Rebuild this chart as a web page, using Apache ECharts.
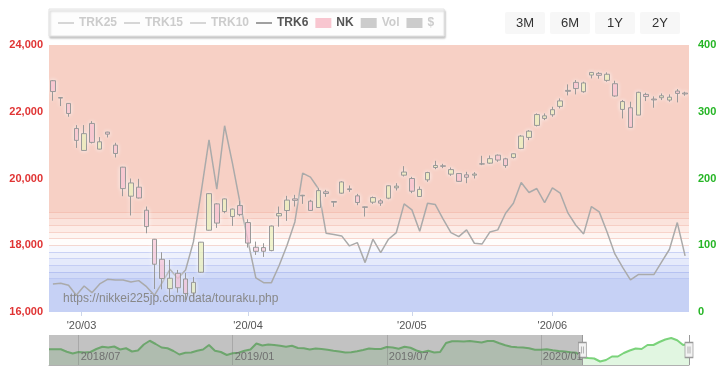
<!DOCTYPE html>
<html><head><meta charset="utf-8">
<script src="https://cdn.jsdelivr.net/npm/echarts@6/dist/echarts.min.js"></script>
<style>html,body{margin:0;padding:0;background:#fff}#c{width:726px;height:380px}</style>
</head><body><div id="c"></div>
<script>
// ---------- data ----------
const dates = ['2020/02/25','2020/02/26','2020/02/27','2020/02/28',
'2020/03/02','2020/03/03','2020/03/04','2020/03/05','2020/03/06','2020/03/09','2020/03/10','2020/03/11','2020/03/12','2020/03/13','2020/03/16','2020/03/17','2020/03/18','2020/03/19','2020/03/23','2020/03/24','2020/03/25','2020/03/26','2020/03/27','2020/03/30','2020/03/31',
'2020/04/01','2020/04/02','2020/04/03','2020/04/06','2020/04/07','2020/04/08','2020/04/09','2020/04/10','2020/04/13','2020/04/14','2020/04/15','2020/04/16','2020/04/17','2020/04/20','2020/04/21','2020/04/22','2020/04/23','2020/04/24','2020/04/27','2020/04/28','2020/04/30',
'2020/05/01','2020/05/07','2020/05/08','2020/05/11','2020/05/12','2020/05/13','2020/05/14','2020/05/15','2020/05/18','2020/05/19','2020/05/20','2020/05/21','2020/05/22','2020/05/25','2020/05/26','2020/05/27','2020/05/28','2020/05/29',
'2020/06/01','2020/06/02','2020/06/03','2020/06/04','2020/06/05','2020/06/08','2020/06/09','2020/06/10','2020/06/11','2020/06/12','2020/06/15','2020/06/16','2020/06/17','2020/06/18','2020/06/19','2020/06/22','2020/06/23','2020/06/24'];

const nkOpen = [22930,22410,22250,21500,
20840,21650,20880,21390,21000,20340,19470,19740,19050,18180,17580,16700,17160,16990,16570,17190,18450,19240,19010,18860,19190,
18680,17940,17930,17840,18880,19040,19390,19480,19320,19130,19600,19310,19560,19690,19480,19150,19290,19330,19410,19720,20100,
20000,19460,19960,20330,20380,20130,20150,20110,20100,20440,20460,20700,20590,20630,20900,21230,21590,21800,
21910,22160,22640,22880,22600,23100,23150,22940,22840,22070,22120,21900,22520,22380,22420,22350,22620,22560];
const nkHigh = [22950,22440,22260,21600,
21600,21720,21240,21400,21070,20350,20000,19990,19160,18190,17790,17560,17260,17170,17050,18100,19560,19260,19400,19100,19330,
18780,18110,18060,18590,19160,19480,19510,19510,19360,19710,19660,19320,19920,19790,19540,19160,19460,19380,19800,19860,20370,
20050,19760,20200,20530,20440,20330,20160,20200,20190,20680,20690,20720,20620,20750,21300,21450,21950,21950,
22150,22400,22820,22950,22900,23190,23190,23180,22930,22350,22300,22600,22570,22460,22550,22520,22680,22600];
const nkLow = [22330,22170,21850,20916,
20830,21050,20870,21230,20630,19470,18891,19400,18360,16690,16680,16378,16580,16358,16410,17170,18440,18520,18960,18580,18870,
17930,17710,17650,17820,18557,18730,19160,19240,19030,19120,19450,19150,19540,19600,19200,18860,19240,19180,19380,19640,20060,
19560,19450,19900,20280,20310,20080,19900,19860,20000,20400,20440,20500,20320,20600,20880,21150,21560,21750,
21850,22100,22490,22520,22570,23000,22990,22900,22450,21800,21530,21900,22320,22120,22350,22300,22280,22480];
const nkClose = [22605,22426,21948,21142,
21344,21082,21100,21329,20749,19698,19867,19416,18559,17431,17002,17011,16726,16552,16887,18092,19546,18664,19389,19084,18917,
18065,17818,17820,18576,18950,19353,19345,19498,19043,19638,19550,19290,19897,19669,19280,19137,19429,19262,19783,19771,20193,
19619,19674,20179,20390,20366,20267,19914,20037,20133,20433,20595,20552,20388,20741,21271,21419,21916,21877,
22062,22325,22613,22695,22863,23178,23091,23124,22472,22305,21530,22582,22455,22355,22478,22437,22549,22534];

const trk6 = [42,43,40,25,39,29,42,49,48,48,45,47,38,25,44,64,50,63,105,180,258,184,279,223,162,
106,51,44,44,70,100,135,208,202,185,118,116,114,99,104,74,109,89,109,119,162,
153,121,163,161,139,119,113,123,103,102,120,123,148,163,194,179,185,164,
186,178,148,130,117,158,150,120,87,67,48,56,56,56,75,94,134,84];

const tickMonths = ['2020/03','2020/04','2020/05','2020/06'];
const tickLabels = ["'20/03","'20/04","'20/05","'20/06"];

const bandEdges = [0,50,60,70,80,90,100,110,120,130,140,150,400];
const bandColors = ['#c6d1f5','#d1daf7','#dbe2f9','#e5eafb','#eef1fc','#f7f8fe','#fffdfc','#fef5f2','#fdece7','#fbe3dc','#f9dad1','#f7d0c5'];

const navDates = ['2018/06/01','2018/06/08','2018/06/15','2018/06/22','2018/06/29','2018/07/06','2018/07/13','2018/07/20','2018/07/27','2018/08/03','2018/08/10','2018/08/17','2018/08/24','2018/08/31','2018/09/07','2018/09/14','2018/09/21','2018/09/28','2018/10/05','2018/10/12','2018/10/19','2018/10/26','2018/11/02','2018/11/09','2018/11/16','2018/11/23','2018/11/30','2018/12/07','2018/12/14','2018/12/21','2018/12/28',
'2019/01/04','2019/01/11','2019/01/18','2019/01/25','2019/02/01','2019/02/08','2019/02/15','2019/02/22','2019/03/01','2019/03/08','2019/03/15','2019/03/22','2019/03/29','2019/04/05','2019/04/12','2019/04/19','2019/04/26','2019/05/03','2019/05/10','2019/05/17','2019/05/24','2019/05/31','2019/06/07','2019/06/14','2019/06/21','2019/06/28','2019/07/05','2019/07/12','2019/07/19','2019/07/26','2019/08/02','2019/08/09','2019/08/16','2019/08/23','2019/08/30','2019/09/06','2019/09/13','2019/09/20','2019/09/27','2019/10/04','2019/10/11','2019/10/18','2019/10/25','2019/11/01','2019/11/08','2019/11/15','2019/11/22','2019/11/29','2019/12/06','2019/12/13','2019/12/20','2019/12/27',
'2020/01/03','2020/01/10','2020/01/17','2020/01/24','2020/01/31','2020/02/07','2020/02/14','2020/02/21','2020/02/28','2020/03/06','2020/03/13','2020/03/20','2020/03/27','2020/04/03','2020/04/10','2020/04/17','2020/04/24','2020/05/01','2020/05/08','2020/05/15','2020/05/22','2020/05/29','2020/06/05','2020/06/12','2020/06/19','2020/06/24'];
const navValues = [103,103,103,93,86,92,90,92,104,113,110,114,102,107,94,98,122,137,124,110,107,96,82,89,90,97,102,120,97,92,80,
87,89,97,102,126,118,122,120,117,113,117,108,107,102,106,104,101,97,94,90,91,95,100,106,104,104,112,110,105,113,109,98,91,97,90,92,128,135,135,134,136,133,130,136,136,127,119,113,111,110,107,101,
101,103,99,96,94,91,89,71,68,66,54,60,74,74,88,98,106,104,120,120,132,142,148,139,120,126];
const navWindowStart = '2020/02/21';
const navWindowEnd = '2020/06/24';

const rangeButtons = ['3M','6M','1Y','2Y'];
const sourceText = 'https://nikkei225jp.com/data/touraku.php';

// ---------- helpers ----------
const FONT = '"Liberation Sans", Arial, sans-serif';
const LINE_ICON = 'path://M0,0L16,0L16,1.6L0,1.6Z';
function dayNum(s){const p=s.split('/').map(Number);return Date.UTC(p[0],p[1]-1,p[2])/86400000;}
const tickPos = tickMonths.map(m => {
  const start = dayNum(m + '/01');
  const i = dates.findIndex(d => dayNum(d) >= start);
  const di = dayNum(dates[i]);
  if (di === start || i === 0) return i;
  const dp = dayNum(dates[i-1]);
  return i - 1 + (start - dp) / (di - dp);
});
function tickLabel(v){let b=0;for(let k=1;k<tickPos.length;k++){if(Math.abs(tickPos[k]-v)<Math.abs(tickPos[b]-v))b=k;}return tickLabels[b];}
function navLabelShown(idx, val){const p=val.split('/');return (p[1]==='01'||p[1]==='07') && Number(p[2])<=7;}

const nkData = dates.map((d,i)=>[nkOpen[i],nkClose[i],nkLow[i],nkHigh[i]]);
const bandAreas = bandColors.map((c,i)=>[{yAxis:bandEdges[i],itemStyle:{color:c}},{yAxis:bandEdges[i+1]}]);
const bandLines = bandEdges.slice(1,-1).map(v=>({yAxis:v,lineStyle:{color: v>=100?'rgba(235,150,130,0.35)':'rgba(120,140,230,0.3)'}}));
const navMid = 100;

const chart = echarts.init(document.getElementById('c'), null, {renderer:'canvas'});
chart.setOption({
  animation:false,
  textStyle:{fontFamily:FONT},
  legend:{
    left:49, top:9, padding:[8,10,7,9], itemGap:7, itemWidth:16, itemHeight:10,
    backgroundColor:'#fdfdfd', borderColor:'#e3e3e3', borderWidth:1,
    shadowColor:'rgba(0,0,0,0.22)', shadowBlur:2, shadowOffsetX:1, shadowOffsetY:2,
    textStyle:{fontSize:12, fontWeight:'bold', color:'#555', fontFamily:FONT},
    inactiveColor:'#ccc',
    data:[
      {name:'TRK25', icon:LINE_ICON, itemStyle:{borderWidth:0}},
      {name:'TRK15', icon:LINE_ICON, itemStyle:{borderWidth:0}},
      {name:'TRK10', icon:LINE_ICON, itemStyle:{borderWidth:0}},
      {name:'TRK6', icon:LINE_ICON, itemStyle:{color:'#888', borderWidth:0}},
      {name:'NK', icon:'rect', itemStyle:{color:'#f8c6d0', borderWidth:0}},
      {name:'Vol', icon:'rect', itemStyle:{borderWidth:0}},
      {name:'$', icon:'rect', itemStyle:{borderWidth:0}}
    ],
    selected:{'TRK25':false,'TRK15':false,'TRK10':false,'Vol':false,'$':false}
  },
  grid:[
    {left:49, right:37, top:45, bottom:68, outerBoundsMode:'none'},
    {left:49, right:37, top:335, height:30, outerBoundsMode:'none'}
  ],
  xAxis:[
    {type:'category', gridIndex:0, data:dates, boundaryGap:true, show:false},
    {type:'value', gridIndex:0, position:'bottom', min:-0.5, max:dates.length-0.5,
      axisLine:{show:false}, splitLine:{show:false},
      axisTick:{show:true, customValues:tickPos, length:4, lineStyle:{color:'#ccd6eb'}},
      axisLabel:{customValues:tickPos, formatter:tickLabel, color:'#555', fontSize:11, margin:8}},
    {type:'category', gridIndex:1, data:navDates, boundaryGap:false, z:20,
      axisLine:{show:true, lineStyle:{color:'#b0b0b0'}}, axisTick:{show:false},
      splitLine:{show:true, interval:navLabelShown, lineStyle:{color:'rgba(110,110,110,0.3)'}},
      axisLabel:{inside:true, interval:navLabelShown, align:'left', padding:[0,0,0,2], margin:3,
        color:'#707070', fontSize:11, formatter:v=>v.slice(0,7)}}
  ],
  yAxis:[
    {type:'value', gridIndex:0, position:'left', min:16000, max:24000, interval:2000,
      axisLine:{show:false}, axisTick:{show:false}, splitLine:{show:false},
      axisLabel:{color:'#e03434', fontWeight:'bold', fontSize:11, margin:6, formatter:v=>v.toLocaleString('en-US')}},
    {type:'value', gridIndex:0, position:'right', min:0, max:400, interval:100,
      axisLine:{show:false}, axisTick:{show:false}, splitLine:{show:false},
      axisLabel:{color:'#25b525', fontWeight:'bold', fontSize:11, margin:9}},
    {type:'value', gridIndex:1, min:40, max:160, show:false}
  ],
  series:[
    {name:'TRK25', type:'line', xAxisIndex:0, yAxisIndex:1, symbol:'none', data:[], lineStyle:{color:'#999',width:1.5}, itemStyle:{color:'#999'}},
    {name:'TRK15', type:'line', xAxisIndex:0, yAxisIndex:1, symbol:'none', data:[], lineStyle:{color:'#999',width:1.5}, itemStyle:{color:'#999'}},
    {name:'TRK10', type:'line', xAxisIndex:0, yAxisIndex:1, symbol:'none', data:[], lineStyle:{color:'#999',width:1.5}, itemStyle:{color:'#999'}},
    {name:'TRK6', type:'line', xAxisIndex:0, yAxisIndex:1, symbol:'none', data:trk6, z:3,
      lineStyle:{color:'#aaa', width:1.5}, itemStyle:{color:'#999'},
      markArea:{silent:true, label:{show:false}, data:bandAreas},
      markLine:{silent:true, symbol:['none','none'], label:{show:false}, lineStyle:{type:'solid', width:1}, data:bandLines, z:1}},
    {name:'NK', type:'candlestick', xAxisIndex:0, yAxisIndex:0, data:nkData, barWidth:5, z:4,
      itemStyle:{color:'rgba(222,232,150,0.6)', color0:'rgba(243,150,180,0.5)', borderColor:'#999', borderColor0:'#999', borderWidth:1,
        shadowBlur:4, shadowColor:'rgba(255,255,255,0.95)'}},
    {name:'Vol', type:'bar', xAxisIndex:0, yAxisIndex:1, data:[], itemStyle:{color:'#bbb'}},
    {name:'$', type:'line', xAxisIndex:0, yAxisIndex:1, symbol:'none', data:[], itemStyle:{color:'#bbb'}},
    {name:'nav', type:'line', xAxisIndex:2, yAxisIndex:2, symbol:'none', data:navValues, silent:true,
      lineStyle:{color:'#7bd37b', width:2}, areaStyle:{color:'#e1f6e1', opacity:1},
      markArea:{silent:true, z:10, label:{show:false}, itemStyle:{color:'rgba(85,85,85,0.36)'},
        data:[[{xAxis:navDates[0]},{xAxis:navWindowStart}]]},
      markLine:{silent:true, z:11, symbol:['none','none'], label:{show:false}, lineStyle:{type:'solid', color:'#999', width:1},
        data:[{xAxis:navWindowStart},{xAxis:navWindowEnd}]},
      markPoint:{silent:true, z:12, symbol:'path://M0,0L8,0L8,15L0,15Z M3,4L3,11 M5,4L5,11', symbolSize:[8,15], label:{show:false},
        itemStyle:{color:'#f2f2f2', borderColor:'#999', borderWidth:1},
        data:[{coord:[navWindowStart, navMid]},{coord:[navWindowEnd, navMid]}]}}
  ],
  graphic: rangeButtons.map((t,i)=>({
    type:'group', left:505+i*45, top:12,
    children:[
      {type:'rect', shape:{x:0,y:0,width:40,height:22,r:2}, style:{fill:'#f7f7f7'}},
      {type:'text', x:20, y:11, style:{text:t, align:'center', verticalAlign:'middle', fill:'#333', font:'13px '+FONT}}
    ]
  })).concat([
    {type:'text', left:63, top:293, z:100, silent:true, style:{text:sourceText, fill:'#888', font:'12px '+FONT}}
  ])
});
</script>
</body></html>
